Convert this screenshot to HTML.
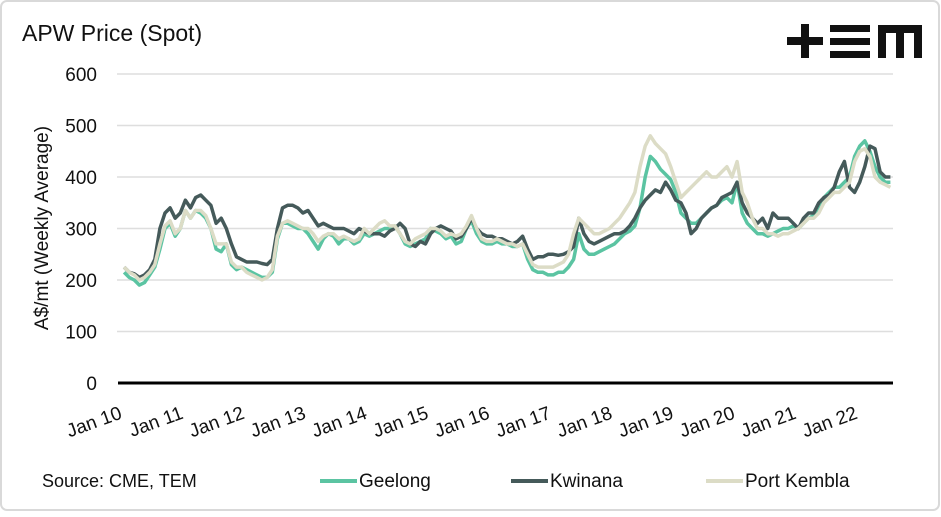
<!DOCTYPE html>
<html><head><meta charset="utf-8"><style>
body{margin:0;background:#fff;font-family:"Liberation Sans",sans-serif}
svg text{font-family:"Liberation Sans",sans-serif;fill:#111}
</style></head><body>
<svg id="c" width="941" height="512">
<rect x="1" y="1" width="938" height="509" rx="6" fill="#fff" stroke="#d9d9d9" stroke-width="2"/>
<text x="22" y="41" font-size="23">APW Price (Spot)</text>
<g fill="#111">
<rect x="787" y="37" width="36" height="8"/><rect x="801" y="24" width="8" height="34"/>
<rect x="830" y="25" width="40" height="7"/><rect x="830" y="38" width="40" height="7"/><rect x="830" y="51" width="40" height="7"/>
<path d="M878 25 H922 V58 H914 V33 H904 V58 H896 V33 H886 V58 H878 Z"/>
</g>
<text transform="translate(48,228) rotate(-90)" text-anchor="middle" font-size="19">A$/mt (Weekly Average)</text>
<g id="grid"></g><g id="series"></g><g id="xlab"></g>
<text x="42" y="487" font-size="18">Source: CME, TEM</text>
<g><line x1="320" y1="481" x2="357" y2="481" stroke="#5bc4a2" stroke-width="4"/><text x="359" y="487" font-size="19">Geelong</text></g>
<g><line x1="511" y1="481" x2="548" y2="481" stroke="#455a5a" stroke-width="4"/><text x="550" y="487" font-size="19">Kwinana</text></g>
<g><line x1="706" y1="481" x2="743" y2="481" stroke="#dcdcc6" stroke-width="4"/><text x="745" y="487" font-size="19">Port Kembla</text></g>
</svg>
<script>
const yTicks=[0,100,200,300,400,500,600];
const xTickLabels=["Jan 10","Jan 11","Jan 12","Jan 13","Jan 14","Jan 15","Jan 16","Jan 17","Jan 18","Jan 19","Jan 20","Jan 21","Jan 22"];
const startYear=2010;
const geelong=[215,205,200,190,195,210,225,260,300,310,285,300,
335,320,335,330,320,300,260,255,270,230,220,225,
220,215,210,205,205,215,280,310,310,305,300,300,
290,275,260,280,290,285,270,280,280,270,275,290,
285,290,295,300,300,305,290,270,265,270,275,280,
300,295,290,280,285,270,275,300,315,290,275,270,
270,275,270,270,265,265,270,240,220,215,215,210,
210,215,215,225,240,290,260,250,250,255,260,265,
270,280,290,295,305,340,400,440,430,415,405,395,
370,330,320,310,310,320,330,340,345,355,360,350,
390,330,310,300,290,290,285,290,295,300,300,305,
300,310,320,325,340,360,370,380,380,390,400,440,
460,470,450,420,400,390,390];
const kwinana=[225,215,212,205,210,220,240,300,330,340,320,330,
355,340,360,365,355,345,310,320,300,270,245,240,
235,235,235,232,230,240,300,340,345,345,340,330,
335,320,305,310,305,300,300,300,295,290,300,295,
290,290,290,285,295,300,310,300,270,265,275,270,
290,300,305,300,295,280,285,300,320,300,290,285,
285,280,280,275,270,275,285,260,240,245,245,250,
250,248,250,255,265,320,290,275,270,275,280,285,
290,290,295,305,320,340,355,365,375,370,390,375,
355,350,330,290,300,320,330,340,345,360,365,370,
390,350,330,320,310,320,300,330,320,320,320,310,
300,320,330,330,350,360,365,380,410,430,380,370,
390,420,460,455,410,400,400];
const portKembla=[225,215,210,200,205,215,230,270,305,315,290,300,
335,320,335,335,325,300,270,270,270,235,225,225,
215,210,205,200,205,220,285,310,315,310,305,300,
300,290,275,285,290,290,280,285,280,275,280,300,
290,300,310,315,305,305,290,275,270,280,285,290,
300,300,295,285,290,285,290,305,325,300,280,275,
275,280,275,270,270,265,270,250,230,225,225,225,
225,230,235,250,290,320,310,300,290,290,295,300,
310,320,335,350,370,420,460,480,465,455,445,420,
390,360,370,380,390,400,410,400,400,410,420,400,
430,370,350,320,300,300,290,290,285,290,290,295,
300,310,320,320,330,350,360,370,370,380,390,430,
450,455,440,400,390,385,380];
const NS='http://www.w3.org/2000/svg';
const X0=119,YW=61.3,Y0=383,PX=0.515;
function xs(m){return X0+m/12*YW;}
function ys(v){return Y0-v*PX;}
const grid=document.getElementById('grid');
yTicks.forEach(t=>{
 if(t>0){const l=document.createElementNS(NS,'line');
 l.setAttribute('x1',117);l.setAttribute('x2',893);l.setAttribute('y1',ys(t));l.setAttribute('y2',ys(t));
 l.setAttribute('stroke','#dedede');l.setAttribute('stroke-width',1.5);
 
 
 grid.appendChild(l);}
 const tx=document.createElementNS(NS,'text');
 tx.setAttribute('x',97);tx.setAttribute('y',ys(t)+7);tx.setAttribute('text-anchor','end');tx.setAttribute('font-size',19);
 tx.textContent=t;
 
 
 grid.appendChild(tx);
});
const sg=document.getElementById('series');
[[geelong,'#5bc4a2','series-geelong'],[kwinana,'#455a5a','series-kwinana'],[portKembla,'#dcdcc6','series-port-kembla']].forEach(([d,c,n])=>{
 const p=document.createElementNS(NS,'polyline');
 p.setAttribute('points',d.map((v,i)=>xs(i+1).toFixed(1)+','+ys(v).toFixed(1)).join(' '));
 p.setAttribute('fill','none');p.setAttribute('stroke',c);p.setAttribute('stroke-width',3.5);p.setAttribute('stroke-linejoin','round');
 
 
 sg.appendChild(p);
});
const ax=document.createElementNS(NS,'line');
ax.setAttribute('x1',118);ax.setAttribute('x2',893);ax.setAttribute('y1',Y0);ax.setAttribute('y2',Y0);
ax.setAttribute('stroke','#000');ax.setAttribute('stroke-width',3);


sg.appendChild(ax);
const xl=document.getElementById('xlab');
xTickLabels.forEach((s,i)=>{
 const t=document.createElementNS(NS,'text');
 const x=xs(i*12)+4;
 t.setAttribute('transform','translate('+x+',418) rotate(-20)');
 t.setAttribute('text-anchor','end');t.setAttribute('font-size',19);
 t.textContent=s;
 
 
 xl.appendChild(t);
});
</script>
</body></html>
